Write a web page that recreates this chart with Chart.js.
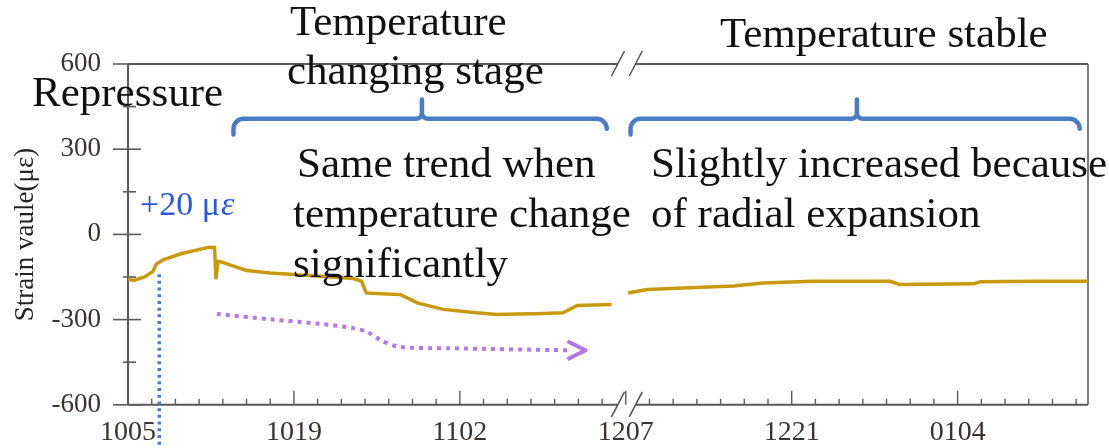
<!DOCTYPE html>
<html>
<head>
<meta charset="utf-8">
<script src="https://cdn.jsdelivr.net/npm/chart.js@4.4.0/dist/chart.umd.min.js"></script>
<style>
  html, body { margin: 0; padding: 0; background: #fff; }
  #strainChart { display: block; }
</style>
</head>
<body>
<canvas id="strainChart" width="1109" height="448"></canvas>
<script>
// x is a day index counted from 10/05; the axis is cut between the two stages
const tickLabels = ['1005', '1019', '1102', '1207', '1221', '0104'];
const labelEvery = 14;
const axisBreak = [41.3, 42.8];

// strain record (με), null splits the two stages
const days = [0, 0.5, 1.4, 2.1, 2.4, 3.0, 4.4, 5.5, 6.8, 7.3, 7.42, 7.6, 7.8, 8.9, 10.0, 12.0, 14.0, 16.2, 19.0, 19.7, 20.1, 21.3, 23.0, 24.4, 26.6, 29.4, 31.1, 32.8, 34.5, 36.7, 37.9, 40.8,
  41.5,
  42.2, 43.0, 43.8, 47.4, 51.1, 53.6, 57.8, 64.3, 65.1, 71.3, 71.9, 76.4, 81];
const strain = [-158, -162, -150, -130, -104, -89, -69, -58, -45, -46, -158, -95, -96, -112, -127, -136, -141, -147, -155, -165, -206, -209, -212, -241, -264, -276, -282, -280, -279, -276, -250, -247,
  null,
  -206, -200, -194, -188, -182, -171, -165, -165, -176, -174, -167, -165, -165];

// downward trend arrow
const trendDays = [7.5, 12.0, 16.2, 19.0, 20.2, 21.3, 22.9, 27.2, 37.2];
const trendStrain = [-280, -299, -315, -330, -344, -372, -396, -401, -408];
const arrowTip = { day: 38.6, value: -408 };

// repressure moment and its jump
const repressureDay = 2.64;
const repressureFrom = -140;

// curly braces over each stage: [start day, peak day, end day]
const braces = [[8.9, 24.8, 40.4], [42.4, 61.5, 80.3]];

const serif = "'Liberation Serif', 'Times New Roman', serif";
const gold = '#C99A10';
const purple = '#B277EA';
const blue = '#4A7BC6';

function line(ctx, x0, y0, x1, y1) {
  ctx.beginPath();
  ctx.moveTo(x0, y0);
  ctx.lineTo(x1, y1);
  ctx.stroke();
}

const overlay = {
  id: 'overlay',
  beforeDatasetsDraw(chart) {
    const { ctx, chartArea: a, scales: { x, y } } = chart;
    const b0 = x.getPixelForValue(axisBreak[0]);
    const b1 = x.getPixelForValue(axisBreak[1]);
    ctx.save();
    ctx.strokeStyle = '#5a5a5a';
    ctx.lineWidth = 2;
    line(ctx, a.left, a.top, a.left, a.bottom);
    ctx.strokeStyle = '#7a7a7a';
    line(ctx, a.right, a.top, a.right, a.bottom);
    ctx.strokeStyle = '#5a5a5a';
    [a.top, a.bottom].forEach(py => {
      line(ctx, a.left, py, b0, py);
      line(ctx, b1, py, a.right, py);
    });
    // tick marks
    ctx.lineWidth = 1.6;
    y.ticks.forEach(t => {
      const py = y.getPixelForValue(t.value);
      if (t.value % 300 === 0) line(ctx, a.left - 15, py, a.left + 13, py);
      else line(ctx, a.left - 5, py, a.left + 8, py);
    });
    ctx.lineWidth = 1.4;
    x.ticks.forEach(t => {
      const px = x.getPixelForValue(t.value);
      const len = t.value % labelEvery === 0 ? 14 : 6;
      line(ctx, px, a.bottom, px, a.bottom - len);
    });
    // break marks
    ctx.lineWidth = 1.5;
    ctx.strokeStyle = '#505050';
    [a.top, a.bottom].forEach(py => {
      [b0, b1].forEach(px => line(ctx, px - 6, py + 12, px + 7, py - 13));
    });
    ctx.restore();
  },
  afterDraw(chart) {
    const { ctx, scales: { x, y } } = chart;
    ctx.save();

    // repressure marker
    const rx = x.getPixelForValue(repressureDay);
    ctx.strokeStyle = blue;
    ctx.lineWidth = 3.5;
    ctx.setLineDash([3, 3.7]);
    line(ctx, rx, y.getPixelForValue(repressureFrom), rx, chart.height);
    ctx.setLineDash([]);

    // arrow head of the trend
    const tx = x.getPixelForValue(arrowTip.day);
    const ty = y.getPixelForValue(arrowTip.value);
    ctx.strokeStyle = purple;
    ctx.lineWidth = 4;
    ctx.lineJoin = 'round';
    ctx.beginPath();
    ctx.moveTo(tx - 18, ty - 9);
    ctx.lineTo(tx, ty);
    ctx.lineTo(tx - 18, ty + 9);
    ctx.stroke();

    // braces
    ctx.strokeStyle = blue;
    ctx.lineWidth = 4.5;
    ctx.lineCap = 'round';
    const yh = y.getPixelForValue(407);
    const yb = y.getPixelForValue(352);
    const yt = y.getPixelForValue(475);
    const r = 10;
    braces.forEach(([d0, dc, d1]) => {
      const x0 = x.getPixelForValue(d0), xc = x.getPixelForValue(dc), x1 = x.getPixelForValue(d1);
      ctx.beginPath();
      ctx.moveTo(x0, yb);
      ctx.arcTo(x0, yh, x0 + r, yh, r);
      ctx.lineTo(xc - 6, yh);
      ctx.arcTo(xc, yh, xc, yh - 6, 6);
      ctx.lineTo(xc, yt);
      ctx.moveTo(xc, yh - 6);
      ctx.arcTo(xc, yh, xc + 6, yh, 6);
      ctx.lineTo(x1 - r, yh);
      ctx.arcTo(x1, yh, x1, yb, r);
      ctx.stroke();
    });

    // text notes
    ctx.fillStyle = '#111';
    ctx.textBaseline = 'alphabetic';
    ctx.font = '43px ' + serif;
    ctx.fillText('Repressure', 32, 106);
    ctx.fillText('Temperature', 290, 35);
    ctx.fillText('changing stage', 287, 84);
    ctx.fillText('Temperature stable', 720, 47);
    ctx.fillText('Same trend when', 297, 177);
    ctx.fillText('temperature change', 293, 227);
    ctx.fillText('significantly', 293, 277);
    ctx.fillText('Slightly increased because', 651, 177);
    ctx.fillText('of radial expansion', 651, 227);

    ctx.fillStyle = '#2B55E6';
    ctx.font = '34px ' + serif;
    ctx.fillText('+20 μ', 140, 215);
    const w = ctx.measureText('+20 μ').width;
    ctx.font = 'italic 34px ' + serif;
    ctx.fillText('ε', 140 + w + 1, 215);
    ctx.restore();
  }
};

const ctx = document.getElementById('strainChart').getContext('2d');

const strainChart = new Chart(ctx, {
  type: 'line',
  data: {
    datasets: [
      {
        label: 'Strain',
        data: days.map((d, i) => ({ x: d, y: strain[i] })),
        borderColor: gold,
        borderWidth: 3.5,
        pointRadius: 0,
        tension: 0,
        spanGaps: false
      },
      {
        label: 'Trend',
        data: trendDays.map((d, i) => ({ x: d, y: trendStrain[i] })),
        borderColor: purple,
        borderWidth: 4,
        borderDash: [4, 5],
        pointRadius: 0,
        tension: 0.3
      }
    ]
  },
  options: {
    responsive: false,
    animation: false,
    devicePixelRatio: 1,
    layout: { padding: { top: 64, right: 21, left: 0, bottom: 0 } },
    plugins: {
      legend: { display: false },
      tooltip: { enabled: false }
    },
    scales: {
      x: {
        type: 'linear',
        min: 0,
        max: 81,
        grid: { display: false, drawTicks: false },
        border: { display: false },
        ticks: {
          stepSize: 2,
          includeBounds: false,
          autoSkip: false,
          maxRotation: 0,
          padding: 11,
          color: '#3a3430',
          font: { family: serif, size: 28 },
          callback: v => (v % labelEvery === 0 ? tickLabels[v / labelEvery] : '')
        },
        afterFit: s => { s.height = 43; }
      },
      y: {
        min: -600,
        max: 600,
        grid: { display: false, drawTicks: false },
        border: { display: false },
        ticks: {
          stepSize: 150,
          padding: 27,
          color: '#3a3430',
          font: { family: serif, size: 27 },
          callback: v => (v % 300 === 0 ? v : '')
        },
        title: {
          display: true,
          text: 'Strain vaule(με)',
          color: '#222',
          font: { family: serif, size: 27 },
          padding: { top: 10, bottom: 0 }
        },
        afterFit: s => { s.width = 128; }
      }
    }
  },
  plugins: [overlay]
});
</script>
</body>
</html>
